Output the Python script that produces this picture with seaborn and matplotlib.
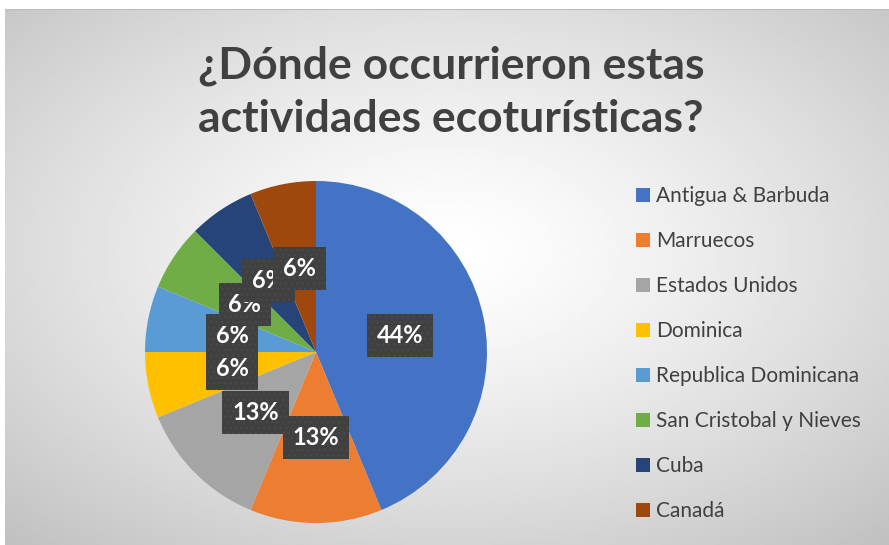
import numpy as np
import matplotlib
matplotlib.use("Agg")
import matplotlib.pyplot as plt
import matplotlib.patches as mpatches
import seaborn as sns

# --- data ---
countries = ["Antigua & Barbuda", "Marruecos", "Estados Unidos", "Dominica",
             "Republica Dominicana", "San Cristobal y Nieves", "Cuba", "Canadá"]
counts = [7, 2, 2, 1, 1, 1, 1, 1]
colors = ["#4472C4", "#ED7D31", "#A5A5A5", "#FFC000",
          "#5B9BD5", "#70AD47", "#264478", "#9E480E"]
title = "¿Dónde occurrieron estas\nactividades ecoturísticas?"

sns.set_theme(style="white")
plt.rcParams["font.family"] = ["Lato", "DejaVu Sans"]
palette = sns.color_palette(colors)

W, H = 889, 545
fig = plt.figure(figsize=(W / 100, H / 100), dpi=100, facecolor="white")

# radial gradient background (chart area)
bg = fig.add_axes([5 / W, 0, 1 - 5 / W, 1 - 9 / H], zorder=0)
yy, xx = np.mgrid[0:1:300j, 0:1:500j]
d = np.sqrt(((xx - 0.5) / 0.75) ** 2 + ((yy - 0.55) / 0.75) ** 2)
shade = 1.0 - 0.25 * np.clip(d, 0, 1) ** 1.3
bg.imshow(shade, cmap="gray", vmin=0, vmax=1, aspect="auto",
          extent=[0, 1, 0, 1], origin="lower", interpolation="bilinear")
bg.axhline(1, color="#bdbdbd", lw=1.5)
bg.set_axis_off()

# pie
cx, cy, r = 316, 352, 171
ax = fig.add_axes([(cx - r) / W, (H - cy - r) / H, 2 * r / W, 2 * r / H], zorder=1)
ax.set_facecolor("none")


def fmt(p):
    return f"{int(p + 0.5)}%"


plt.rcParams["hatch.linewidth"] = 0.8
wedges, _, autotexts = ax.pie(counts, colors=palette, startangle=90,
                              counterclock=False, autopct=fmt,
                              pctdistance=0.5, radius=1,
                              wedgeprops=dict(linewidth=0))
for t in autotexts:
    t.set_color("white")
    t.set_fontsize(17)
    t.set_fontweight("bold")
    t.set_bbox(dict(boxstyle="square,pad=0.42", facecolor="#404040",
                    edgecolor="#4a4a4a", linewidth=0, hatch="..."))
ax.set_xlim(-1, 1)
ax.set_ylim(-1, 1)
ax.set_axis_off()

# title
fig.text(451 / W, 1 - 92 / H, title, ha="center", va="center",
         fontsize=32, fontweight="bold", color="#404040", linespacing=1.4)

# legend
handles = [mpatches.Patch(facecolor=c, edgecolor="none") for c in palette]
leg = fig.legend(handles, countries, loc="upper left",
                 bbox_to_anchor=(636 / W, 1 - 186 / H), frameon=False,
                 fontsize=15, labelcolor="#404040", handlelength=0.65,
                 handleheight=0.65, handletextpad=0.3, labelspacing=1.2,
                 borderpad=0, borderaxespad=0)

fig.savefig("out.png", dpi=100, facecolor="white")
